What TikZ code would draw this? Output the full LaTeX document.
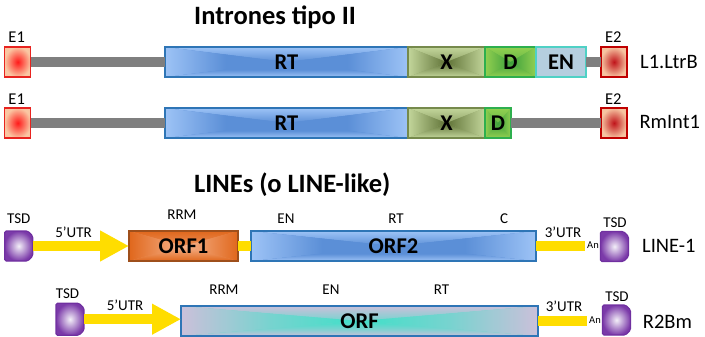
\documentclass[tikz,border=0pt]{standalone}
\usepackage{fontspec}
\setmainfont{Carlito}
\usetikzlibrary{arrows.meta}
\definecolor{rtout}{HTML}{9DC3F6}
\definecolor{rtin}{HTML}{5B8FD7}
\definecolor{rtbd}{HTML}{2E75B6}
\definecolor{xout}{HTML}{C3D69B}
\definecolor{xin}{HTML}{5F7236}
\definecolor{xbd}{HTML}{768A4C}
\definecolor{dout}{HTML}{92D050}
\definecolor{din}{HTML}{3C9E3C}
\definecolor{dbd}{HTML}{2EAF4E}
\definecolor{enfill}{HTML}{B5CEDF}
\definecolor{enbd}{HTML}{4FD1C5}
\definecolor{oaout}{HTML}{E0671C}
\definecolor{oain}{HTML}{F6B48E}
\definecolor{oabd}{HTML}{9E4F1B}
\definecolor{oout}{HTML}{CBC0DA}
\definecolor{oin}{HTML}{3FE0C8}
\definecolor{eain}{HTML}{FF1A1A}
\definecolor{eaout}{HTML}{FAC6A2}
\definecolor{eabd}{HTML}{E8231F}
\definecolor{ebin}{HTML}{C0141A}
\definecolor{ebout}{HTML}{F6C3A0}
\definecolor{ebbd}{HTML}{C00000}
\definecolor{tsdin}{HTML}{F3EFF8}
\definecolor{tsdout}{HTML}{7B3AA9}
\definecolor{tsdbd}{HTML}{7030A0}
\definecolor{yel}{HTML}{FFDD00}
\definecolor{gline}{HTML}{7F7F7F}
\newcommand\fntTitle{\fontsize{26.5}{30}\selectfont\bfseries}
\newcommand\fntBox{\fontsize{22.5}{26}\selectfont\bfseries}
\newcommand\fntSide{\fontsize{20.5}{24}\selectfont}
\newcommand\fntE{\fontsize{16.5}{19}\selectfont}
\newcommand\fntSmall{\fontsize{15}{18}\selectfont}
\newcommand\fntAn{\fontsize{10.5}{12}\selectfont}
\newcommand\tsdshape[1]{\path[tsdfill] (#1.north west) -- ([xshift=-5pt]#1.north east) -- ([yshift=-5pt]#1.north east) -- ([yshift=5pt]#1.south east) -- ([xshift=-5pt]#1.south east) -- (#1.south west) -- cycle;}
\tikzset{
  rgradm/.style n args={3}{fill=#3, path picture={
    \shade[top color=#1,bottom color=#2,middle color=#3] (path picture bounding box.north west) -- (path picture bounding box.north east) -- (path picture bounding box.center) -- cycle;
    \shade[top color=#2,bottom color=#1,middle color=#3] (path picture bounding box.south west) -- (path picture bounding box.south east) -- (path picture bounding box.center) -- cycle;
    \shade[left color=#1,right color=#2,middle color=#3] (path picture bounding box.north west) -- (path picture bounding box.south west) -- (path picture bounding box.center) -- cycle;
    \shade[left color=#2,right color=#1,middle color=#3] (path picture bounding box.north east) -- (path picture bounding box.south east) -- (path picture bounding box.center) -- cycle;
  }},
  rgrad/.style 2 args={rgradm={#1}{#2}{#1!50!#2}},
  rgradw/.style 2 args={rgradm={#1}{#2}{#2}},
  gbox/.style={draw, line width=1.2pt, inner sep=0pt, outer sep=0pt, minimum height=30pt, font=\fntBox},
  ebox/.style n args={3}{draw=#3, line width=1.2pt, inner color=#1, outer color=#2, inner sep=0pt, outer sep=0pt, minimum width=26pt, minimum height=30pt},
  tsdbox/.style={inner sep=0pt, outer sep=0pt, minimum width=28pt, minimum height=30pt},
  tsdfill/.style={draw=tsdbd, line width=1.2pt, inner color=tsdin, outer color=tsdout, rounded corners=1.5pt},
  gbar/.style={draw=gline, line width=9.5pt},
  ybar/.style={draw=yel, line width=10pt},
  yarrow/.style={ybar, -{Triangle[length=29pt,width=29pt]}},
  ttl/.style={font=\fntTitle, inner sep=0pt, anchor=base west},
  side/.style={font=\fntSide, inner sep=0pt, anchor=west},
  elab/.style={font=\fntE, inner sep=0pt},
  small/.style={font=\fntSmall, inner sep=0pt},
  anlab/.style={font=\fntAn, inner sep=0pt},
}
\begin{document}
\begin{tikzpicture}[x=1pt,y=-1pt]
\useasboundingbox (0,0) rectangle (705,337);
% titles
\node[ttl] (t1) at (194,24.3) {Intrones tipo II};
\node[ttl] (t2) at (194,192.7) {LINEs (o LINE-like)};
% row 1: L1.LtrB
\node[ebox={eain}{eaout}{eabd}] (e1a) at (17.7,62) {};
\node[gbox, draw=rtbd, rgradw={rtout}{rtin}, minimum width=243pt] (rta) at (286.5,62) {RT};
\node[gbox, draw=xbd, rgrad={xout}{xin}, minimum width=77pt] (xa) at (446.5,62) {X};
\node[gbox, draw=dbd, rgrad={dout}{din}, minimum width=51pt] (da) at (510.5,62) {D};
\node[gbox, draw=enbd, fill=enfill, minimum width=50pt] (ena) at (561,62) {EN};
\node[ebox={ebin}{ebout}{ebbd}] (e2a) at (614,62) {};
\draw[gbar] (e1a) -- (rta);
\draw[gbar] (ena) -- (e2a);
\node[elab] (le1a) at (16.7,37.2) {E1};
\node[elab] (le2a) at (613.3,37.2) {E2};
\node[side] (n1) at (640,62.2) {L1.LtrB};
% row 2: RmInt1
\node[ebox={eain}{eaout}{eabd}] (e1b) at (17.7,123) {};
\node[gbox, draw=rtbd, rgradw={rtout}{rtin}, minimum width=243pt] (rtb) at (286.5,123) {RT};
\node[gbox, draw=xbd, rgrad={xout}{xin}, minimum width=77pt] (xb) at (446.5,123) {X};
\node[gbox, draw=dbd, rgrad={dout}{din}, minimum width=26pt] (db) at (498,123) {D};
\node[ebox={ebin}{ebout}{ebbd}] (e2b) at (614,123) {};
\draw[gbar] (e1b) -- (rtb);
\draw[gbar] (db) -- (e2b);
\node[elab] (le1b) at (16.7,99.5) {E1};
\node[elab] (le2b) at (613.3,99.2) {E2};
\node[side] (n2) at (639.3,122) {RmInt1};
% row 3: LINE-1
\node[tsdbox] (tsda) at (18.7,246) {};
\tsdshape{tsda}
\node[gbox, draw=oabd, rgrad={oaout}{oain}, minimum width=109pt] (orfa) at (183.5,246) {ORF1};
\node[gbox, draw=rtbd, rgradw={rtout}{rtin}, minimum width=285pt] (orfc) at (393.5,246) {ORF2};
\node[tsdbox] (tsdc) at (614.5,246.5) {};
\tsdshape{tsdc}
\coordinate (ua) at (585,246);
\draw[yarrow] (tsda) -- (orfa);
\draw[ybar] (orfa) -- (orfc);
\draw[ybar] (orfc) -- (ua);
\node[small] (s1) at (18.7,219) {TSD};
\node[small] (s2) at (73.5,232) {5’UTR};
\node[small] (s3) at (182,215) {RRM};
\node[small] (s4) at (286,219) {EN};
\node[small] (s5) at (396,219) {RT};
\node[small] (s6) at (504,219) {C};
\node[small] (s7) at (563,232) {3’UTR};
\node[anlab] (an1) at (593,245) {An};
\node[small] (s8) at (615,223) {TSD};
\node[side] (n3) at (642,245.8) {LINE-1};
% row 4: R2Bm
\node[tsdbox, minimum height=32pt] (tsdb) at (70,319.2) {};
\tsdshape{tsdb}
\node[gbox, draw=rtbd, rgradm={oout}{oin}{oin!60!oout}, minimum width=357pt] (orfb) at (359.5,321) {ORF};
\node[tsdbox] (tsdd) at (616.5,320) {};
\tsdshape{tsdd}
\coordinate (ub) at (587,321);
\draw[yarrow] (tsdb.east) -- (tsdb.east -| orfb.west);
\draw[ybar] (orfb) -- (ub);
\node[small] (s9) at (67.5,294) {TSD};
\node[small] (s10) at (125,305.3) {5’UTR};
\node[small] (s11) at (224,289.5) {RRM};
\node[small] (s12) at (331,289.5) {EN};
\node[small] (s13) at (441.5,289.5) {RT};
\node[small] (s14) at (564,306.3) {3’UTR};
\node[anlab] (an2) at (595,320.5) {An};
\node[small] (s15) at (617,297) {TSD};
\node[side] (n4) at (642.7,321.5) {R2Bm};
\end{tikzpicture}
\end{document}
